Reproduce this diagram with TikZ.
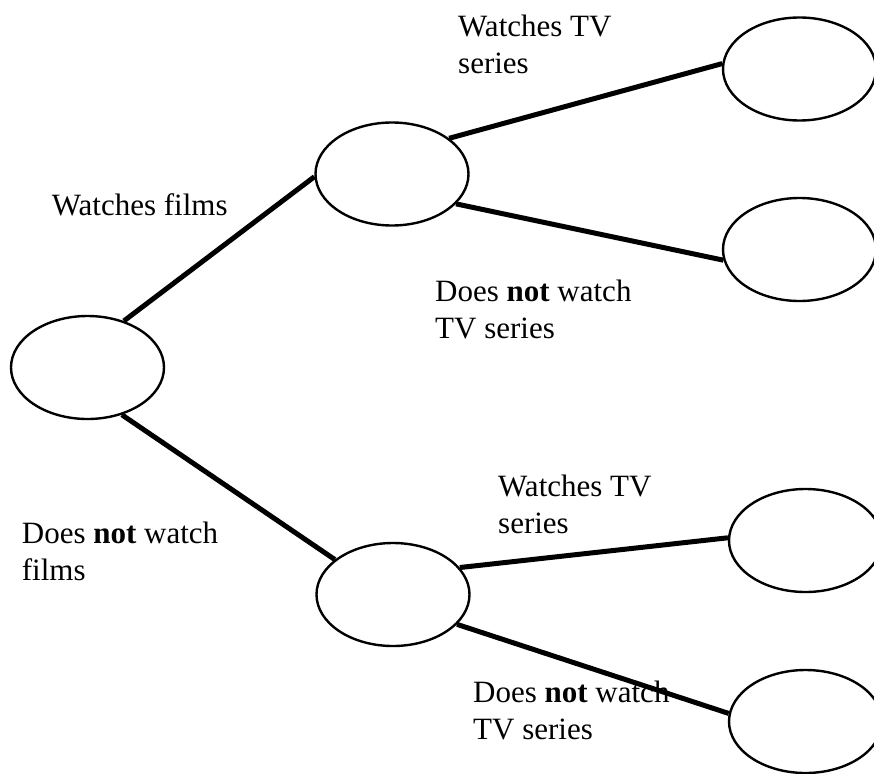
\documentclass[tikz,border=0pt]{standalone}
\usepackage{fontspec}
\setmainfont{Liberation Serif}
\usetikzlibrary{shapes.geometric}

\tikzset{
  bubble/.style={draw, ellipse, line width=2.4pt, minimum width=153pt,
    minimum height=103pt, inner sep=0pt},
  branch/.style={line width=5pt},
  lbl/.style={anchor=north west, inner sep=0pt, align=left,
    font=\fontsize{31}{37}\selectfont}
}

\begin{document}
\begin{tikzpicture}[x=1pt, y=-1pt]
      \useasboundingbox (0,0) rectangle (874,773);
      % the outcomes
      \node[bubble] (root) at (87.5,367.5) {};
      \node[bubble] (films) at (392,174) {};
      \node[bubble] (nofilms) at (393,594.5) {};
      \node[bubble] (films-tv) at (799.5,69) {};
      \node[bubble] (films-notv) at (799.5,249.5) {};
      \node[bubble] (nofilms-tv) at (805.5,540.5) {};
      \node[bubble] (nofilms-notv) at (805.5,721.5) {};
      % routine for branches
      \draw[branch] (root.52) -- (films.182);
      \draw[branch] (root.-54) -- (nofilms.149);
      \draw[branch] (films.32) -- (films-tv.176);
      \draw[branch] (films.-25) -- (films-notv.188);
      \draw[branch] (nofilms.22) -- (nofilms-tv.178);
      \draw[branch] (nofilms.-25) -- (nofilms-notv.174);
      % branch labels
      \node[lbl] (l-films) at (51.7,193) {Watches films};
      \node[lbl] (l-nofilms) at (21.7,522) {Does \textbf{not} watch\\films};
      \node[lbl] (l-tv1) at (458,15) {Watches TV\\series};
      \node[lbl] (l-notv1) at (435,280) {Does \textbf{not} watch\\TV series};
      \node[lbl] (l-tv2) at (498,475) {Watches TV\\series};
      \node[lbl] (l-notv2) at (473,681) {Does \textbf{not} watch\\TV series};
    \end{tikzpicture}
\end{document}
